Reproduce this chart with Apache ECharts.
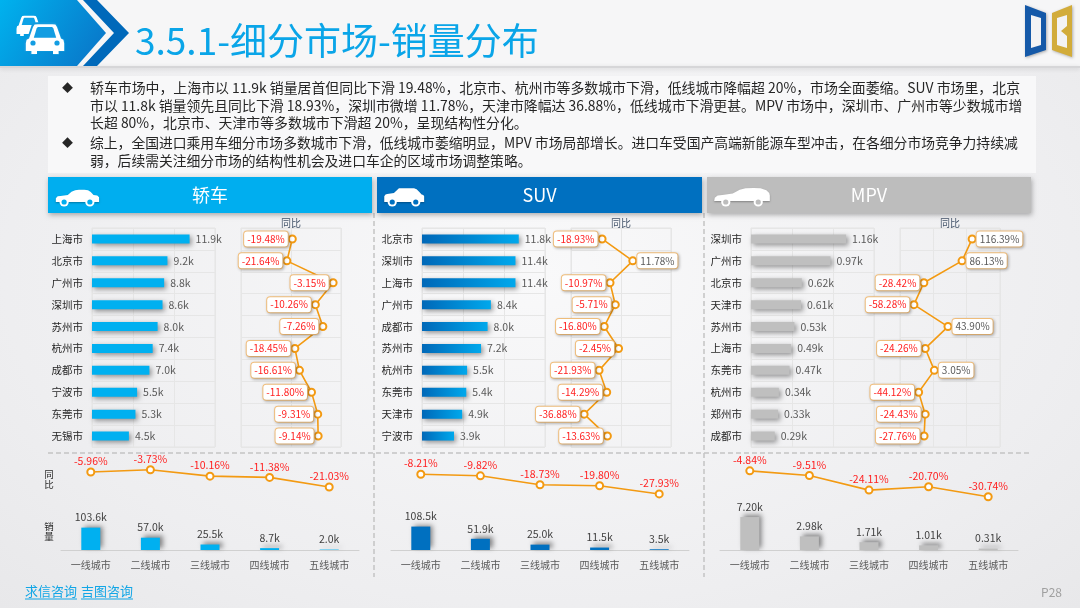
<!DOCTYPE html>
<html>
<head>
<meta charset="utf-8">
<script src="https://cdn.jsdelivr.net/npm/echarts@6/dist/echarts.min.js"></script>
<style>
html,body{margin:0;padding:0;}
#main{width:1080px;height:608px;background:radial-gradient(ellipse at 50% 45%,#f9f9fa 0%,#eeeef0 70%,#e8e8ea 100%);}
</style>
</head>
<body>
<div id="main"></div>
<script>
//数据
var tiers = ['一线城市','二线城市','三线城市','四线城市','五线城市'];
var sedanCities = ['上海市','北京市','广州市','深圳市','苏州市','杭州市','成都市','宁波市','东莞市','无锡市'];
var sedanSales = [11.9,9.2,8.8,8.6,8.0,7.4,7.0,5.5,5.3,4.5];
var sedanYoy = [-19.48,-21.64,-3.15,-10.26,-7.26,-18.45,-16.61,-11.80,-9.31,-9.14];
var sedanTierSales = [103.6,57.0,25.5,8.7,2.0];
var sedanTierYoy = [-5.96,-3.73,-10.16,-11.38,-21.03];
var suvCities = ['北京市','深圳市','上海市','广州市','成都市','苏州市','杭州市','东莞市','天津市','宁波市'];
var suvSales = [11.8,11.4,11.4,8.4,8.0,7.2,5.5,5.4,4.9,3.9];
var suvYoy = [-18.93,11.78,-10.97,-5.71,-16.80,-2.45,-21.93,-14.29,-36.88,-13.63];
var suvTierSales = [108.5,51.9,25.0,11.5,3.5];
var suvTierYoy = [-8.21,-9.82,-18.73,-19.80,-27.93];
var mpvCities = ['深圳市','广州市','北京市','天津市','苏州市','上海市','东莞市','杭州市','郑州市','成都市'];
var mpvSales = [1.16,0.97,0.62,0.61,0.53,0.49,0.47,0.34,0.33,0.29];
var mpvYoy = [116.39,86.13,-28.42,-58.28,43.90,-24.26,3.05,-44.12,-24.43,-27.76];
var mpvTierSales = [7.20,2.98,1.71,1.01,0.31];
var mpvTierYoy = [-4.84,-9.51,-24.11,-20.70,-30.74];

var para1 = ['轿车市场中，上海市以 11.9k 销量居首但同比下滑 19.48%，北京市、杭州市等多数城市下滑，低线城市降幅超 20%，市场全面萎缩。SUV 市场里，北京',
	'市以 11.8k 销量领先且同比下滑 18.93%，深圳市微增 11.78%，天津市降幅达 36.88%，低线城市下滑更甚。MPV 市场中，深圳市、广州市等少数城市增',
	'长超 80%，北京市、天津市等多数城市下滑超 20%，呈现结构性分化。'];
var para2 = ['综上，全国进口乘用车细分市场多数城市下滑，低线城市萎缩明显，MPV 市场局部增长。进口车受国产高端新能源车型冲击，在各细分市场竞争力持续减',
	'弱，后续需关注细分市场的结构性机会及进口车企的区域市场调整策略。'];

var FONT = '"Noto Sans CJK SC","Microsoft YaHei",sans-serif';
var RED = '#ff2020';
var ORANGE = '#f39a12';

var chart = echarts.init(document.getElementById('main'));
var grids = [], xAxes = [], yAxes = [], series = [], graphics = [];

function txt(x,y,text,size,color,align,extra){
	var s = {text:text,fill:color,font:size+'px '+FONT,textAlign:align||'left',textVerticalAlign:'middle'};
	if(extra){for(var k in extra){s[k]=extra[k];}}
	return {type:'text',x:x,y:y,style:s,z:10};
}
//把图形点缩放到指定位置
function fit(pts,x,y,w,h,vw,vh){
	return pts.map(function(p){return [x+p[0]*w/vw,y+p[1]*h/vh];});
}

/****各细分市场面板****/
function buildPanel(i,p){
	var dx = [0,330,659][i];
	var g = grids.length;
	grids.push({left:92+dx,top:228,width:123,height:219,show:true,borderColor:'#e4e4e4',borderWidth:1});
	grids.push({left:241+dx,top:228,width:100,height:219,show:true,borderColor:'#e4e4e4',borderWidth:1});
	grids.push({left:61+dx,top:466,width:298,height:40});
	grids.push({left:61+dx,top:512,width:298,height:38});
	var split = {show:true,lineStyle:{color:'#e6e6e6',width:1}};
	//城市销量
	xAxes.push({gridIndex:g,type:'value',min:0,max:p.salesMax,interval:p.salesMax/3,axisLabel:{show:false},axisLine:{show:false},axisTick:{show:false},splitLine:split});
	yAxes.push({gridIndex:g,type:'category',data:p.cities,inverse:true,axisLine:{show:false},axisTick:{show:false},
		axisLabel:{color:'#262626',fontSize:10.5,margin:9,fontFamily:FONT},splitLine:split});
	series.push({type:'bar',xAxisIndex:g,yAxisIndex:g,data:p.sales,barWidth:9,
		itemStyle:{color:p.barColor,shadowColor:'rgba(0,0,0,0.4)',shadowBlur:5,shadowOffsetX:2,shadowOffsetY:2},
		label:{show:true,position:'right',distance:6,color:'#595959',fontSize:10.5,fontFamily:FONT,
			formatter:function(o){return o.value.toFixed(p.dec)+'k';}}});
	//城市同比
	xAxes.push({gridIndex:g+1,type:'value',position:'top',min:p.yoyMin,max:p.yoyMax,interval:p.yoyInterval,
		name:'同比',nameLocation:'middle',nameGap:0,nameTextStyle:{color:'#44546a',fontSize:10,fontFamily:FONT},
		axisLabel:{show:false},axisLine:{show:false},axisTick:{show:false},splitLine:split});
	yAxes.push({gridIndex:g+1,type:'category',data:p.cities,inverse:true,axisLine:{show:false},axisTick:{show:false},axisLabel:{show:false},splitLine:split});
	series.push({type:'line',xAxisIndex:g+1,yAxisIndex:g+1,z:5,
		data:p.yoy.map(function(v){
			return {value:v,label:{position:v>=0?'right':'left',color:v>=0?'#595959':RED}};
		}),
		symbol:'emptyCircle',symbolSize:7,lineStyle:{color:ORANGE,width:1.6},itemStyle:{color:ORANGE,borderWidth:1.6},
		label:{show:true,distance:0,fontSize:10,fontFamily:FONT,backgroundColor:'#fff',borderColor:'#f6c27e',borderWidth:1,borderRadius:3,
			padding:[3,3,2,3],shadowBlur:3,shadowColor:'rgba(0,0,0,0.22)',shadowOffsetX:1,shadowOffsetY:1,
			formatter:function(o){return o.value.toFixed(2)+'%';}}});
	//分级城市同比
	xAxes.push({gridIndex:g+2,type:'category',data:tiers,show:false});
	yAxes.push({gridIndex:g+2,type:'value',min:-40,max:0,show:false,splitLine:{show:false}});
	series.push({type:'line',xAxisIndex:g+2,yAxisIndex:g+2,data:p.tierYoy,symbol:'emptyCircle',symbolSize:7,
		lineStyle:{color:ORANGE,width:1.6},itemStyle:{color:ORANGE,borderWidth:1.6},
		label:{show:true,position:'top',distance:1,color:RED,fontSize:10.5,fontFamily:FONT,
			formatter:function(o){return o.value.toFixed(2)+'%';}}});
	//分级城市销量
	xAxes.push({gridIndex:g+3,type:'category',data:tiers,axisLine:{lineStyle:{color:'#d0d0d0'}},axisTick:{show:false},
		axisLabel:{color:'#595959',fontSize:10,margin:10,fontFamily:FONT}});
	yAxes.push({gridIndex:g+3,type:'value',min:0,max:p.tierMax,show:false,splitLine:{show:false}});
	series.push({type:'bar',xAxisIndex:g+3,yAxisIndex:g+3,data:p.tierSales,barWidth:19,
		itemStyle:{color:p.tierColor,shadowColor:'rgba(0,0,0,0.45)',shadowBlur:5,shadowOffsetX:3,shadowOffsetY:-2},
		label:{show:true,position:'top',distance:5,color:'#404040',fontSize:10.5,fontFamily:FONT,
			formatter:function(o){return o.value.toFixed(p.dec)+'k';}}});
}

buildPanel(0,{cities:sedanCities,sales:sedanSales,yoy:sedanYoy,tierSales:sedanTierSales,tierYoy:sedanTierYoy,
	salesMax:15,yoyMin:-40,yoyMax:0,yoyInterval:20,tierMax:176,dec:1,barColor:'#00b0f0',tierColor:'#00b0f0'});
buildPanel(1,{cities:suvCities,sales:suvSales,yoy:suvYoy,tierSales:suvTierSales,tierYoy:suvTierYoy,
	salesMax:15,yoyMin:-50,yoyMax:50,yoyInterval:50,tierMax:176,dec:1,
	barColor:new echarts.graphic.LinearGradient(0,0,1,0,[{offset:0,color:'#0068b8'},{offset:1,color:'#00a8ec'}]),tierColor:'#0070c0'});
buildPanel(2,{cities:mpvCities,sales:mpvSales,yoy:mpvYoy,tierSales:mpvTierSales,tierYoy:mpvTierYoy,
	salesMax:1.5,yoyMin:-100,yoyMax:200,yoyInterval:100,tierMax:8.3,dec:2,barColor:'#bfbfbf',tierColor:'#bfbfbf'});

/****页面装饰****/
//页眉
graphics.push({type:'rect',shape:{x:0,y:0,width:1080,height:66},style:{fill:'#f6f6f7'},z:1});
graphics.push({type:'rect',shape:{x:0,y:66,width:1080,height:2},style:{fill:'#d6d6d8',shadowBlur:4,shadowColor:'rgba(0,0,0,0.15)',shadowOffsetY:1},z:1});
graphics.push({type:'polygon',shape:{points:[[0,0],[77,0],[106,33],[77,66],[0,66]]},
	style:{fill:new echarts.graphic.LinearGradient(0,0,1,1,[{offset:0,color:'#00b2ee'},{offset:1,color:'#0a72c6'}])},z:2});
graphics.push({type:'polygon',shape:{points:[[83,0],[97,0],[129,33],[97,66],[83,66],[114,33]]},style:{fill:'#0069ba'},z:2});
//页眉车标
var frontCar = [[10,40],[20,10],[24,4],[32,3],[68,3],[76,4],[80,10],[90,40],[96,43],[98,52],[98,72],[84,72],[84,80],[70,80],[70,72],[30,72],[30,80],[16,80],[16,72],[2,72],[2,52],[4,43]];
var windshield = [[22,38],[29,14],[32,10],[68,10],[71,14],[78,38]];
graphics.push({type:'polygon',shape:{points:fit(frontCar,16,15,26,21,100,80)},style:{fill:'#fff'},z:3});
graphics.push({type:'polygon',shape:{points:fit(windshield,16,15,26,21,100,80)},style:{fill:'#0fa2e6'},z:3});
graphics.push({type:'polygon',shape:{points:fit(frontCar,23,21,43,34,100,80)},style:{fill:'#129ade'},z:3});
graphics.push({type:'polygon',shape:{points:fit(frontCar,25,23,40,31,100,80)},style:{fill:'#fff'},z:3});
graphics.push({type:'polygon',shape:{points:fit(windshield,25,23,40,31,100,80)},style:{fill:'#139de2'},z:4});
graphics.push({type:'circle',shape:{cx:33,cy:43,r:2.6},style:{fill:'#139de2'},z:4});
graphics.push({type:'circle',shape:{cx:57,cy:43,r:2.6},style:{fill:'#139de2'},z:4});
graphics.push(txt(135,41,'3.5.1-细分市场-销量分布',37,'#0aa5e8'));
//右上角标志
graphics.push({type:'polygon',shape:{points:[[1025,5],[1046,13],[1046,50],[1025,57]]},style:{fill:'#1559a8',shadowBlur:3,shadowColor:'rgba(0,0,0,0.3)',shadowOffsetX:1,shadowOffsetY:1},z:3});
graphics.push({type:'polygon',shape:{points:[[1031,15],[1041,18],[1041,45],[1031,48]]},style:{fill:'#f3f3f4'},z:4});
graphics.push({type:'polygon',shape:{points:[[1052,13],[1072,5],[1072,57],[1052,50]]},style:{fill:'#d2ac3a',shadowBlur:3,shadowColor:'rgba(0,0,0,0.3)',shadowOffsetX:1,shadowOffsetY:1},z:3});
graphics.push({type:'polygon',shape:{points:[[1057,18],[1067,15],[1067,26],[1061,31],[1067,36],[1067,48],[1057,45]]},style:{fill:'#f3f3f4'},z:4});
//文字说明
graphics.push({type:'rect',shape:{x:48,y:76,width:988,height:97},style:{fill:'#f8f8f9'},z:1});
graphics.push(txt(62,88,'◆',11,'#262626'));
graphics.push(txt(62,143,'◆',11,'#262626'));
para1.forEach(function(l,k){graphics.push(txt(90,88+k*17.5,l,13.9,'#262626'));});
para2.forEach(function(l,k){graphics.push(txt(90,143+k*17.5,l,13.8,'#262626'));});
//面板标题
var sideCar = {
	sedan:[[4,32],[4,26],[8,22],[14,21],[30,19],[38,12],[46,9],[54,8],[66,8],[74,9],[80,13],[86,19],[94,20],[98,24],[98,34],[4,34]],
	suv:[[3,34],[3,22],[6,18],[10,17],[26,15],[38,5],[74,5],[80,7],[86,12],[92,18],[96,19],[98,22],[98,34]],
	mpv:[[2,32],[3,25],[8,20],[16,19],[34,16],[46,8],[56,5],[70,4],[82,5],[92,9],[97,15],[98,20],[98,32]]
};
var heads = [
	{x:48,w:324,color:'#00aeef',name:'轿车',car:sideCar.sedan,cx:54,cw:46},
	{x:377,w:325,color:'#0070c0',name:'SUV',car:sideCar.suv,cx:383,cw:42},
	{x:707,w:324,color:'#bdbdbd',name:'MPV',car:sideCar.mpv,cx:713,cw:58}
];
heads.forEach(function(h){
	graphics.push({type:'rect',shape:{x:h.x,y:177,width:h.w,height:36},style:{fill:h.color,shadowBlur:5,shadowColor:'rgba(0,0,0,0.3)',shadowOffsetX:1,shadowOffsetY:2},z:2});
	graphics.push({type:'polygon',shape:{points:fit(h.car,h.cx,186,h.cw,16,100,34)},style:{fill:'#fff',shadowBlur:2,shadowColor:'rgba(0,0,0,0.3)',shadowOffsetY:1},z:3});
	[0.22,0.78].forEach(function(f){
		graphics.push({type:'circle',shape:{cx:h.cx+h.cw*f,cy:202,r:4.6},style:{fill:'#fff'},z:4});
		graphics.push({type:'circle',shape:{cx:h.cx+h.cw*f,cy:202,r:2.6},style:{fill:h.color},z:5});
	});
	graphics.push(txt(h.x+h.w/2,195,h.name,18,'#fff','center'));
});
//虚线分隔
var dash = {stroke:'#c4c4c4',lineWidth:1.5,lineDash:[5,3]};
graphics.push({type:'line',shape:{x1:374,y1:213,x2:374,y2:577},style:dash,z:1});
graphics.push({type:'line',shape:{x1:704,y1:213,x2:704,y2:577},style:dash,z:1});
graphics.push({type:'line',shape:{x1:48,y1:453,x2:1032,y2:453},style:dash,z:1});
graphics.push(txt(49,479,'同\n比',9.5,'#262626','center',{lineHeight:10}));
graphics.push(txt(49,531,'销\n量',9.5,'#262626','center',{lineHeight:10}));
//页脚
graphics.push(txt(25,591,'求信咨询',13,'#12a6e6'));
graphics.push(txt(81,591,'吉图咨询',13,'#12a6e6'));
graphics.push({type:'line',shape:{x1:25,y1:599,x2:77,y2:599},style:{stroke:'#12a6e6',lineWidth:1},z:10});
graphics.push({type:'line',shape:{x1:81,y1:599,x2:133,y2:599},style:{stroke:'#12a6e6',lineWidth:1},z:10});
graphics.push(txt(1062,592,'P28',12,'#a0a0a0','right'));

chart.setOption({
	animation:false,
	textStyle:{fontFamily:FONT},
	grid:grids,
	xAxis:xAxes,
	yAxis:yAxes,
	series:series,
	graphic:{elements:graphics}
});
</script>
</body>
</html>
